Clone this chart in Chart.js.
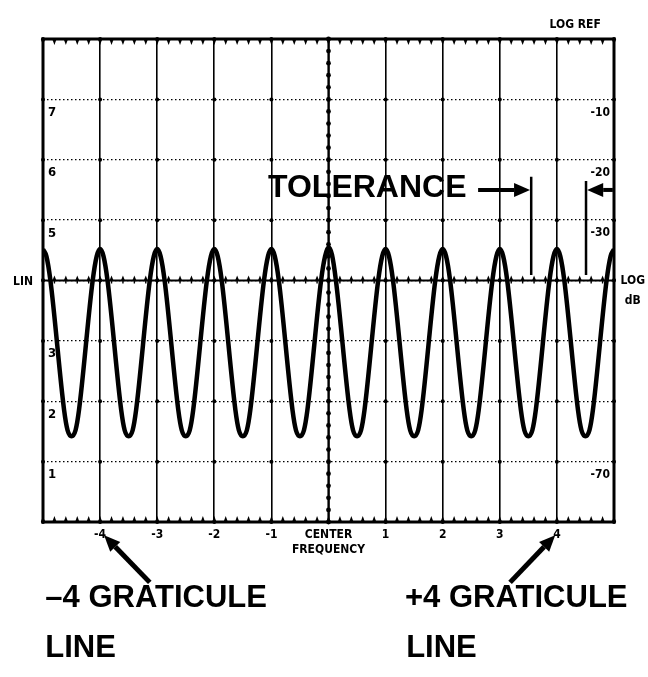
<!DOCTYPE html>
<html>
<head>
<meta charset="utf-8">
<script src="https://cdn.jsdelivr.net/npm/chart.js@4.4.1/dist/chart.umd.min.js"></script>
<style>
  html, body { margin: 0; padding: 0; background: #fff; }
</style>
</head>
<body>
<canvas id="scope" width="648" height="677"></canvas>
<script>
// graticule: 10 frequency divisions across, 8 LIN divisions up
const freqTicks  = [-5, -4, -3, -2, -1, 0, 1, 2, 3, 4, 5];
const freqLabels = ['', '-4', '-3', '-2', '-1', ['CENTER', 'FREQUENCY'], '1', '2', '3', '4', ''];
const linTicks   = [0, 1, 2, 3, 4, 5, 6, 7, 8];
const linLabels  = ['', '1', '2', '3', '', '5', '6', '7', ''];
const logLabels  = ['', '-70', '', '', '', '-30', '-20', '-10', ''];

// comb response (x in divisions, y in LIN units)
const traceX = [
  -5, -4.94, -4.87, -4.63, -4.57, -4.5, -4.43, -4.37, -4.13, -4.06,
  -4, -3.94, -3.87, -3.63, -3.57, -3.5, -3.43, -3.37, -3.13, -3.06,
  -3, -2.94, -2.87, -2.63, -2.57, -2.5, -2.43, -2.37, -2.13, -2.06,
  -2, -1.94, -1.87, -1.63, -1.57, -1.5, -1.43, -1.37, -1.13, -1.06,
  -1, -0.94, -0.87, -0.63, -0.57, -0.5, -0.43, -0.37, -0.13, -0.06,
  0, 0.06, 0.13, 0.37, 0.43, 0.5, 0.57, 0.63, 0.87, 0.94,
  1, 1.06, 1.13, 1.37, 1.43, 1.5, 1.57, 1.63, 1.87, 1.94,
  2, 2.06, 2.13, 2.37, 2.43, 2.5, 2.57, 2.63, 2.87, 2.94,
  3, 3.06, 3.13, 3.37, 3.43, 3.5, 3.57, 3.63, 3.87, 3.94,
  4, 4.06, 4.13, 4.37, 4.43, 4.5, 4.57, 4.63, 4.87, 4.94,
  5
];
const traceY = [
  4.52, 4.40, 4.0, 1.85, 1.52, 1.42, 1.52, 1.85, 4.0, 4.40,
  4.52, 4.40, 4.0, 1.85, 1.52, 1.42, 1.52, 1.85, 4.0, 4.40,
  4.52, 4.40, 4.0, 1.85, 1.52, 1.42, 1.52, 1.85, 4.0, 4.40,
  4.52, 4.40, 4.0, 1.85, 1.52, 1.42, 1.52, 1.85, 4.0, 4.40,
  4.52, 4.40, 4.0, 1.85, 1.52, 1.42, 1.52, 1.85, 4.0, 4.40,
  4.55, 4.43, 4.0, 1.85, 1.52, 1.42, 1.52, 1.85, 4.0, 4.40,
  4.52, 4.40, 4.0, 1.85, 1.52, 1.42, 1.52, 1.85, 4.0, 4.40,
  4.52, 4.40, 4.0, 1.85, 1.52, 1.42, 1.52, 1.85, 4.0, 4.40,
  4.52, 4.40, 4.0, 1.85, 1.52, 1.42, 1.52, 1.85, 4.0, 4.40,
  4.52, 4.40, 4.0, 1.85, 1.52, 1.42, 1.52, 1.85, 4.0, 4.40,
  4.52
];

// tolerance markers
const tolLeftX  = 3.55;
const tolLeftY  = [5.72, 4.09];
const tolRightX = 4.51;
const tolRightY = [5.65, 4.09];

const narrow = "'Liberation Sans Narrow', 'DejaVu Sans Condensed', 'Liberation Sans', sans-serif";
const heavy  = "'Liberation Sans', Arial, sans-serif";

function arrow(ctx, x1, y1, x2, y2, w, headLen, headW) {
  const ang = Math.atan2(y2 - y1, x2 - x1);
  const bx = x2 - Math.cos(ang) * headLen, by = y2 - Math.sin(ang) * headLen;
  ctx.lineWidth = w;
  ctx.beginPath(); ctx.moveTo(x1, y1); ctx.lineTo(bx, by); ctx.stroke();
  ctx.beginPath();
  ctx.moveTo(x2, y2);
  ctx.lineTo(bx + Math.sin(ang) * headW / 2, by - Math.cos(ang) * headW / 2);
  ctx.lineTo(bx - Math.sin(ang) * headW / 2, by + Math.cos(ang) * headW / 2);
  ctx.closePath(); ctx.fill();
}

const scopePlugin = {
  id: 'scope',
  beforeDatasetsDraw(chart) {
    const {ctx, chartArea: a, scales: {x, y}} = chart;
    ctx.save();
    ctx.fillStyle = '#000';
    ctx.strokeStyle = '#000';
    // minor teeth every fifth of a division
    for (let v = -5; v <= 5.001; v += 0.2) {
      const px = x.getPixelForValue(v);
      ctx.beginPath();
      ctx.moveTo(px - 2.2, a.top); ctx.lineTo(px + 2.2, a.top); ctx.lineTo(px, a.top + 6);
      ctx.fill();
      ctx.beginPath();
      ctx.moveTo(px - 2.2, a.bottom); ctx.lineTo(px + 2.2, a.bottom); ctx.lineTo(px, a.bottom - 6);
      ctx.fill();
      const py = y.getPixelForValue(4);
      ctx.beginPath();
      ctx.moveTo(px - 2, py); ctx.lineTo(px + 2, py); ctx.lineTo(px, py - 5);
      ctx.fill();
      ctx.fillRect(px - 0.7, py - 1, 1.4, 4);
    }
    // lin line drawn a bit heavier
    ctx.lineWidth = 2;
    ctx.beginPath();
    ctx.moveTo(a.left, y.getPixelForValue(4)); ctx.lineTo(a.right, y.getPixelForValue(4));
    ctx.stroke();
    // beads on the centre line
    const cx = x.getPixelForValue(0);
    ctx.lineWidth = 2.2;
    ctx.beginPath(); ctx.moveTo(cx, a.top); ctx.lineTo(cx, a.bottom); ctx.stroke();
    for (let v = 0; v <= 8.001; v += 0.2) {
      ctx.beginPath();
      ctx.arc(cx, y.getPixelForValue(v), 2.4, 0, Math.PI * 2);
      ctx.fill();
    }
    // dots at graticule crossings
    freqTicks.forEach(fx => linTicks.forEach(ly => {
      ctx.beginPath();
      ctx.arc(x.getPixelForValue(fx), y.getPixelForValue(ly), 2, 0, Math.PI * 2);
      ctx.fill();
    }));
    ctx.restore();
  },
  afterDraw(chart) {
    const {ctx, chartArea: a, scales: {x, y}} = chart;
    const px = v => x.getPixelForValue(v);
    const py = v => y.getPixelForValue(v);
    ctx.save();
    ctx.fillStyle = '#000';
    ctx.strokeStyle = '#000';
    ctx.lineWidth = 3;
    ctx.strokeRect(a.left, a.top, a.width, a.height);

    // dB scale down the right edge, inside the screen
    ctx.font = 'bold 12px ' + narrow;
    ctx.textBaseline = 'middle';
    ctx.textAlign = 'right';
    linTicks.forEach((v, i) => {
      if (logLabels[i]) ctx.fillText(logLabels[i], a.right - 4, py(v) + 13);
    });

    // small screen labels
    ctx.fillText('LOG REF', px(4.77), py(8.23));
    ctx.textAlign = 'center';
    ctx.fillText('LIN', px(-5.35), py(3.98));
    ctx.fillText('LOG', px(5.33), py(4.0));
    ctx.fillText('dB', px(5.33), py(3.66));

    // tolerance callout
    ctx.font = 'bold 32px ' + heavy;
    ctx.textAlign = 'left';
    ctx.fillText('TOLERANCE', px(-1.06), py(5.53));
    arrow(ctx, px(2.62), py(5.5), px(3.53), py(5.5), 4, 16, 14);
    arrow(ctx, px(4.98), py(5.5), px(4.53), py(5.5), 4, 16, 14);

    // graticule line callouts
    ctx.font = 'bold 31px ' + heavy;
    ctx.fillText('\u20134 GRATICULE', px(-4.96), py(-1.26));
    ctx.fillText('LINE', px(-4.96), py(-2.1));
    ctx.fillText('+4 GRATICULE', px(1.34), py(-1.26));
    ctx.fillText('LINE', px(1.36), py(-2.1));
    arrow(ctx, px(-3.13), py(-1.0), px(-3.93), py(-0.22), 5, 16, 14);
    arrow(ctx, px(3.18), py(-1.0), px(3.97), py(-0.22), 5, 16, 14);
    ctx.restore();
  }
};

const fixedTicks = list => scale => { scale.ticks = list.map(v => ({value: v})); };

new Chart(document.getElementById('scope'), {
  type: 'line',
  data: {
    datasets: [
      {
        data: traceX.map((v, i) => ({x: v, y: traceY[i]})),
        borderColor: '#000',
        borderWidth: 4.5,
        pointRadius: 0,
        cubicInterpolationMode: 'monotone',
        fill: false
      },
      {
        data: tolLeftY.map(v => ({x: tolLeftX, y: v})),
        borderColor: '#000', borderWidth: 2.5, pointRadius: 0, fill: false
      },
      {
        data: tolRightY.map(v => ({x: tolRightX, y: v})),
        borderColor: '#000', borderWidth: 2.5, pointRadius: 0, fill: false
      }
    ]
  },
  options: {
    responsive: false,
    animation: false,
    devicePixelRatio: 1,
    layout: { padding: { top: 39, left: 0, right: 34, bottom: 0 } },
    plugins: { legend: { display: false }, tooltip: { enabled: false } },
    scales: {
      x: {
        type: 'linear', min: -5, max: 5, position: 'bottom',
        afterBuildTicks: fixedTicks(freqTicks),
        afterFit: s => { s.height = 155; },
        grid: { color: '#000', lineWidth: 1.6, drawTicks: false },
        border: { display: false },
        ticks: {
          color: '#000', padding: 6, maxRotation: 0, autoSkip: false,
          font: { family: narrow, size: 12, weight: 'bold' },
          callback: v => freqLabels[freqTicks.indexOf(v)]
        }
      },
      y: {
        type: 'linear', min: 0, max: 8, position: 'left',
        afterBuildTicks: fixedTicks(linTicks),
        afterFit: s => { s.width = 43; },
        grid: { color: '#000', lineWidth: 1.3, drawTicks: false },
        border: { display: false, dash: [1.5, 2.5] },
        ticks: {
          mirror: true, padding: 5, labelOffset: 13, color: '#000',
          font: { family: narrow, size: 13, weight: 'bold' },
          callback: v => linLabels[linTicks.indexOf(v)]
        }
      }
    }
  },
  plugins: [scopePlugin]
});
</script>
</body>
</html>
